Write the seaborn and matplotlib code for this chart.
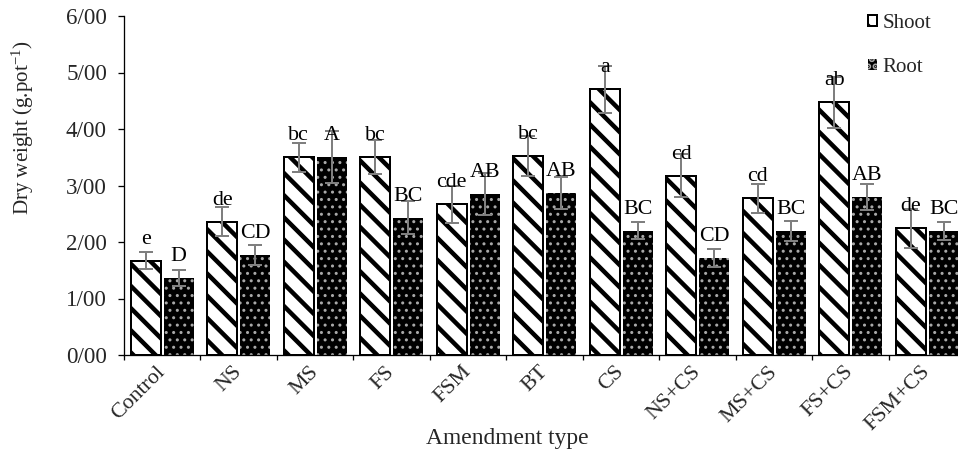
import matplotlib
matplotlib.use("Agg")
import matplotlib.pyplot as plt
from matplotlib.patches import Patch
from matplotlib.ticker import FixedLocator
import seaborn as sns
import pandas as pd

# ---------------- data ----------------
categories = ["Control", "NS", "MS", "FS", "FSM", "BT", "CS", "NS+CS", "MS+CS", "FS+CS", "FSM+CS"]
shoot = [1.67, 2.36, 3.50, 3.50, 2.67, 3.52, 4.70, 3.17, 2.77, 4.47, 2.24]
root = [1.37, 1.77, 3.50, 2.43, 2.85, 2.87, 2.20, 1.72, 2.20, 2.80, 2.20]
shoot_err = [0.15, 0.26, 0.26, 0.30, 0.33, 0.36, 0.42, 0.38, 0.26, 0.45, 0.35]
root_err = [0.14, 0.18, 0.46, 0.29, 0.37, 0.28, 0.15, 0.16, 0.18, 0.23, 0.16]
shoot_letters = ["e", "de", "bc", "bc", "cde", "bc", "a", "cd", "cd", "ab", "de"]
root_letters = ["D", "CD", "A", "BC", "AB", "AB", "BC", "CD", "BC", "AB", "BC"]
series = ["Shoot", "Root"]
ytick_values = [0, 1, 2, 3, 4, 5, 6]
ytick_labels = ["0/00", "1/00", "2/00", "3/00", "4/00", "5/00", "6/00"]

df = pd.DataFrame({
    "Amendment": categories * 2,
    "Part": [series[0]] * len(categories) + [series[1]] * len(categories),
    "Value": shoot + root,
})

# ---------------- style ----------------
DPI = 133
def pt(p):
    return p * 72.0 / DPI

sns.set_style("ticks")
plt.rcParams["font.family"] = ["Liberation Serif", "DejaVu Serif"]
plt.rcParams["mathtext.fontset"] = "custom"
plt.rcParams["mathtext.rm"] = "Liberation Serif"
plt.rcParams["mathtext.it"] = "Liberation Serif:italic"
plt.rcParams["hatch.linewidth"] = pt(4.5)

fig = plt.figure(figsize=(958 / DPI, 453 / DPI), dpi=DPI)
ax = fig.add_axes([124 / 958, 1 - 355 / 453, 841.5 / 958, 339 / 453])

sns.barplot(data=df, x="Amendment", y="Value", hue="Part", order=categories,
            hue_order=series, palette=["white", "black"], width=0.86, gap=0.09,
            errorbar=None, legend=False, ax=ax, edgecolor="black",
            linewidth=pt(2.0), saturation=1)

shoot_bars, root_bars = ax.containers[0], ax.containers[1]
for p in shoot_bars:
    p.set_facecolor("white")
    p.set_edgecolor("black")
    p.set_hatch("\\\\")
    if hasattr(p, "set_hatch_linewidth"):
        p.set_hatch_linewidth(pt(4.5))
for p in root_bars:
    p.set_facecolor("black")
    p.set_edgecolor("#a8a8a8")
    p.set_linewidth(0)
    p.set_hatch("...")
    if hasattr(p, "set_hatch_linewidth"):
        p.set_hatch_linewidth(pt(1.6))

for bars, errs, letters in ((shoot_bars, shoot_err, shoot_letters),
                            (root_bars, root_err, root_letters)):
    xs = [p.get_x() + p.get_width() / 2 for p in bars]
    hs = [p.get_height() for p in bars]
    ax.errorbar(xs, hs, yerr=errs, fmt="none", ecolor="#7f7f7f",
                elinewidth=pt(2.0), capsize=pt(7), capthick=pt(2.0), zorder=5)
    for x, h, lab in zip(xs, hs, letters):
        ax.annotate(lab, (x, h), xytext=(0, pt(17)), textcoords="offset points",
                    ha="center", va="baseline", fontsize=pt(22), color="black", zorder=6)

# axes
ax.set_ylim(0, 6)
ax.set_xlim(-0.5, len(categories) - 0.5)
ax.set_yticks(ytick_values)
ax.set_yticklabels(ytick_labels, fontsize=pt(23))
ax.set_xticks(range(len(categories)))
ax.set_xticklabels(categories, fontsize=pt(22), rotation=45, ha="right", va="center",
                   rotation_mode="anchor")
ax.xaxis.set_minor_locator(FixedLocator([i - 0.5 for i in range(len(categories) + 1)]))
ax.tick_params(axis="x", which="major", length=0, pad=pt(14))
ax.tick_params(axis="x", which="minor", length=pt(5), width=pt(1.3), direction="out", color="black")
ax.tick_params(axis="y", length=pt(6), width=pt(1.3), direction="out", pad=pt(11), color="black")
sns.despine(ax=ax)
for s in ("left", "bottom"):
    ax.spines[s].set_linewidth(pt(1.3))
    ax.spines[s].set_color("black")

ax.set_ylabel("Dry weight (g.pot$^{-1}$)", fontsize=pt(21))
ax.yaxis.set_label_coords(-0.1046, 0.67)
ax.set_xlabel("Amendment type", fontsize=pt(23.5))
ax.xaxis.set_label_coords(0.456, -0.215)
ax.xaxis.label.set_va("top")

handles = [Patch(facecolor="white", edgecolor="black", hatch="\\\\", linewidth=pt(2)),
           Patch(facecolor="black", edgecolor="#a8a8a8", hatch="...", linewidth=0)]
fig.legend(handles, series, loc="upper left", bbox_to_anchor=(868 / 958, 1 - 14 / 453),
           frameon=False, fontsize=pt(21), handlelength=0.45, handleheight=0.45,
           handletextpad=0.25, labelspacing=1.2, borderpad=0, borderaxespad=0)

fig.savefig("out.png", dpi=DPI)
